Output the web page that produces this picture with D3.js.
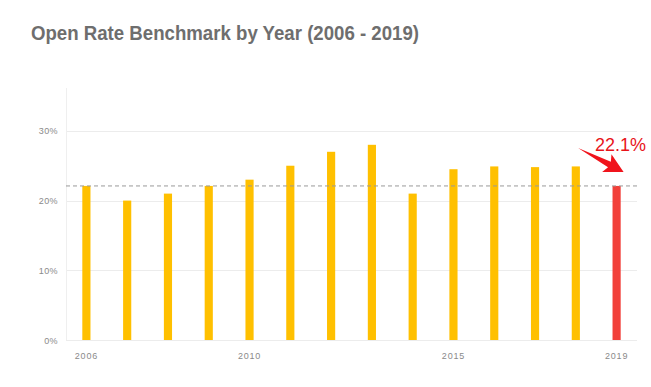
<!DOCTYPE html>
<html>
<head>
<meta charset="utf-8">
<script src="https://cdn.jsdelivr.net/npm/d3@7"></script>
<style>
  html, body { margin: 0; padding: 0; background: #fff; }
  svg { display: block; }
</style>
</head>
<body>
<svg id="chart" width="651" height="387"></svg>
<script>
const years = ["2006","2007","2008","2009","2010","2011","2012","2013","2014","2015","2016","2017","2018","2019"];
const openRates = [22.1, 20, 21, 22.1, 23, 25, 27, 28, 21, 24.5, 24.9, 24.8, 24.9, 22.1];
const yTicks = [0, 10, 20, 30];
const xTickLabels = ["2006", "2010", "2015", "2019"];
const benchmark = 22.1;
const highlightYear = "2019";
const annotationText = "22.1%";
const titleText = "Open Rate Benchmark by Year (2006 - 2019)";

(function () {
const svg = d3.select("#chart");
const pLeft = 66, pRight = 637, pTop = 88, pBottom = 340;

const x = d3.scaleBand().domain(years).range([pLeft, pRight]).paddingInner(0.8).paddingOuter(0.4);
const y = d3.scaleLinear().domain([0, 36.15]).range([pBottom, pTop]);

// title
svg.append("text")
  .attr("x", 31).attr("y", 39.5)
  .attr("font-family", "Liberation Sans, Arial, sans-serif")
  .attr("font-weight", "bold")
  .attr("font-size", 20)
  .attr("fill", "#6e6e6e")
  .attr("textLength", 388)
  .attr("lengthAdjust", "spacingAndGlyphs")
  .text(titleText);

// horizontal gridlines
svg.append("g").selectAll("line").data(yTicks).join("line")
  .attr("x1", pLeft).attr("x2", pRight)
  .attr("y1", d => Math.round(y(d)) + 0.5).attr("y2", d => Math.round(y(d)) + 0.5)
  .attr("stroke", "#ececec").attr("stroke-width", 1);

// left axis line
svg.append("line")
  .attr("x1", pLeft + 0.5).attr("x2", pLeft + 0.5)
  .attr("y1", pTop).attr("y2", pBottom)
  .attr("stroke", "#efefef");

// y labels
svg.append("g").selectAll("text").data(yTicks).join("text")
  .attr("x", 58).attr("y", d => y(d) + 3.5)
  .attr("text-anchor", "end")
  .attr("font-family", "Liberation Sans, Arial, sans-serif")
  .attr("font-size", 9)
  .attr("letter-spacing", 0.4)
  .attr("fill", "#8a8a8a")
  .text(d => d + "%");

// x labels
svg.append("g").selectAll("text").data(xTickLabels).join("text")
  .attr("x", d => x(d) + x.bandwidth() / 2)
  .attr("y", 359)
  .attr("text-anchor", "middle")
  .attr("font-family", "Liberation Sans, Arial, sans-serif")
  .attr("font-size", 9)
  .attr("letter-spacing", 0.8)
  .attr("fill", "#8a8a8a")
  .text(d => d);

// bars
svg.append("g").selectAll("rect").data(years).join("rect")
  .attr("x", d => x(d))
  .attr("width", x.bandwidth())
  .attr("y", (d, i) => y(openRates[i]))
  .attr("height", (d, i) => pBottom - y(openRates[i]))
  .attr("fill", d => d === highlightYear ? "#f2403a" : "#ffc000");

// benchmark dashed line
svg.append("line")
  .attr("x1", pLeft).attr("x2", pRight)
  .attr("y1", y(benchmark)).attr("y2", y(benchmark))
  .attr("stroke", "#999").attr("stroke-width", 1)
  .attr("stroke-dasharray", "4,3");

// annotation arrow
const tipX = x(highlightYear) + x.bandwidth() / 2 + 7, tipY = y(benchmark) - 14;
const tailX = tipX - 45.5, tailY = tipY - 24;
const ang = Math.atan2(tipY - tailY, tipX - tailX);
const len = Math.hypot(tipX - tailX, tipY - tailY);
const headLen = 19, headHalf = 10, shaftHalf = 3;
const local = [[0, 0], [len - headLen + 3, -shaftHalf], [len - headLen, -headHalf], [len, 0], [len - headLen, headHalf], [len - headLen + 3, shaftHalf]];
const pts = local.map(([px, py]) => [tailX + px * Math.cos(ang) - py * Math.sin(ang), tailY + px * Math.sin(ang) + py * Math.cos(ang)]);
svg.append("path")
  .attr("d", d3.line()(pts) + "Z")
  .attr("fill", "#f0141c");

svg.append("text")
  .attr("x", 646).attr("y", 150.5)
  .attr("text-anchor", "end")
  .attr("font-family", "Liberation Sans, Arial, sans-serif")
  .attr("font-size", 18)
  .attr("fill", "#e8141a")
  .text(annotationText);
})();
</script>
</body>
</html>
